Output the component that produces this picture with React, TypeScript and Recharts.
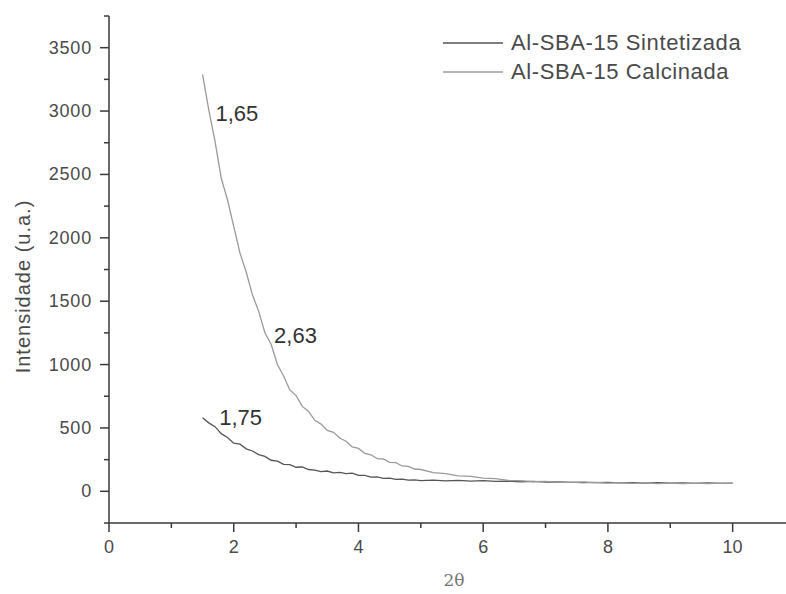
import { LineChart, Line, XAxis, YAxis, Legend, ReferenceDot } from 'recharts';

const twoTheta = [
  1.5, 1.6, 1.7, 1.8, 1.9, 2.0, 2.1, 2.2, 2.3, 2.4, 2.5, 2.6, 2.7, 2.8, 2.9, 3.0, 3.1, 3.2,
  3.3, 3.4, 3.5, 3.6, 3.7, 3.8, 3.9, 4.0, 4.1, 4.2, 4.3, 4.4, 4.5, 4.6, 4.7, 4.8, 4.9, 5.0,
  5.2, 5.4, 5.6, 5.8, 6.0, 6.2, 6.4, 6.6, 6.8, 7.0, 7.2, 7.4, 7.6, 7.8, 8.0, 8.2, 8.4, 8.6,
  8.8, 9.0, 9.2, 9.4, 9.6, 9.8, 10.0,
];

const sintetizada = [
  580, 540, 510, 455, 425, 380, 372, 335, 318, 290, 275, 245, 238, 212, 210, 190, 192, 172,
  168, 155, 160, 146, 150, 140, 143, 125, 126, 112, 114, 102, 104, 94, 96, 88, 91, 85,
  88, 82, 86, 80, 84, 78, 80, 75, 78, 72, 74, 70, 72, 68, 70, 66, 69, 65,
  68, 64, 67, 63, 66, 63, 65,
];

const calcinada = [
  3290, 3010, 2760, 2470, 2300, 2090, 1880, 1730, 1550, 1420, 1250, 1160, 1000, 910, 800, 755, 670, 630,
  560, 530, 480, 465, 420, 395, 350, 338, 300, 288, 258, 255, 228, 226, 200, 196, 176, 172,
  148, 140, 122, 118, 104, 100, 86, 84, 76, 78, 70, 72, 66, 70, 64, 68, 62, 66,
  61, 65, 60, 64, 61, 65, 62,
];

const seriesNames = ['Al-SBA-15 Sintetizada', 'Al-SBA-15 Calcinada'];

const xTicks = [0, 1, 2, 3, 4, 5, 6, 7, 8, 9, 10, 11];
const yTicks = [
  -250, 0, 250, 500, 750, 1000, 1250, 1500, 1750, 2000, 2250, 2500, 2750, 3000, 3250, 3500, 3750,
];

// peak annotations (text centre, data coords)
const peakLabels = ['1,65', '2,63', '1,75'];
const peakX = [2.05, 2.99, 2.11];
const peakY = [2982, 1231, 584];

const data = twoTheta.map((x, i) => ({ x, sint: sintetizada[i], calc: calcinada[i] }));

const FONT = '"Liberation Sans", Arial, sans-serif';
const AXIS = '#3a3a3a';
const TEXT = '#4a4a4a';

function XTick({ x, y, payload }: any) {
  const major = payload.value % 2 === 0 && payload.value <= 10;
  return (
    <g>
      <line x1={x} y1={y} x2={x} y2={y + (major ? 9 : 5)} stroke={AXIS} strokeWidth={1.5} />
      {major && (
        <text x={x} y={y + 30} textAnchor="middle" fontSize={18} fill={TEXT} fontFamily={FONT}>
          {payload.value}
        </text>
      )}
    </g>
  );
}

function YTick({ x, y, payload }: any) {
  const major = payload.value % 500 === 0 && payload.value >= 0 && payload.value <= 3500;
  return (
    <g>
      <line x1={x} y1={y} x2={x - (major ? 9 : 5)} y2={y} stroke={AXIS} strokeWidth={1.5} />
      {major && (
        <text x={x - 17} y={y + 6} textAnchor="end" fontSize={18} fill={TEXT} fontFamily={FONT} letterSpacing={0.8}>
          {payload.value}
        </text>
      )}
    </g>
  );
}

function LegendBox({ payload }: any) {
  const items = [...(payload || [])].sort(
    (a: any, b: any) => seriesNames.indexOf(a.value) - seriesNames.indexOf(b.value)
  );
  return (
    <div style={{ fontFamily: FONT }}>
      {items.map((p: any) => (
        <div key={p.value} style={{ display: 'flex', alignItems: 'center', height: 29 }}>
          <svg width={68} height={4}>
            <line x1={0} y1={2} x2={60} y2={2} stroke={p.color} strokeWidth={1.3} />
          </svg>
          <span style={{ fontSize: 22, color: TEXT, letterSpacing: 0.6 }}>{p.value}</span>
        </div>
      ))}
    </div>
  );
}

export default function App() {
  return (
    <div style={{ position: 'absolute', left: 0, top: 0, width: 786, height: 594, overflow: 'hidden', background: '#fff' }}>
      <LineChart width={800} height={594} data={data} margin={{ top: 16, right: 5, bottom: 0, left: 0 }}>
        <XAxis
          dataKey="x"
          type="number"
          domain={[0, 11]}
          ticks={xTicks}
          interval={0}
          height={71}
          tickSize={0}
          tickMargin={0}
          tick={<XTick />}
          axisLine={{ stroke: AXIS, strokeWidth: 1.5 }}
          label={{
            content: ({ viewBox }: any) => (
              <text
                x={viewBox.x + viewBox.width / 2 + 2}
                y={586}
                textAnchor="middle"
                fontSize={17}
                fill="#777"
                fontFamily='"DejaVu Serif", serif'
              >
                2θ
              </text>
            ),
          }}
        />
        <XAxis xAxisId="top" orientation="top" type="number" domain={[0, 11]} height={0} tick={false} tickLine={false} axisLine={{ stroke: AXIS, strokeWidth: 1.3 }} />
        <YAxis
          type="number"
          domain={[-250, 3750]}
          ticks={yTicks}
          interval={0}
          width={109}
          tickSize={0}
          tickMargin={0}
          tick={<YTick />}
          axisLine={{ stroke: AXIS, strokeWidth: 1.5 }}
          label={{
            content: ({ viewBox }: any) => {
              const cx = 23;
              const cy = viewBox.y + viewBox.height / 2 + 17;
              return (
                <text
                  x={cx}
                  y={cy}
                  transform={`rotate(-90 ${cx} ${cy})`}
                  textAnchor="middle"
                  dominantBaseline="central"
                  fontSize={20}
                  fill={TEXT}
                  fontFamily={FONT}
                  letterSpacing={1}
                >
                  Intensidade (u.a.)
                </text>
              );
            },
          }}
        />
        <Legend
          layout="vertical"
          verticalAlign="middle"
          align="center"
          content={<LegendBox />}
          wrapperStyle={{ left: 443, top: 28, width: 340 }}
        />
        <Line
          type="linear"
          dataKey="sint"
          name={seriesNames[0]}
          stroke="#555"
          strokeWidth={1.3}
          dot={false}
          isAnimationActive={false}
        />
        <Line
          type="linear"
          dataKey="calc"
          name={seriesNames[1]}
          stroke="#9a9a9a"
          strokeWidth={1.3}
          dot={false}
          isAnimationActive={false}
        />
        {peakLabels.map((t, i) => (
          <ReferenceDot
            key={t}
            x={peakX[i]}
            y={peakY[i]}
            r={0}
            stroke="none"
            fill="none"
            label={{ value: t, position: 'center', fontSize: 22, fill: '#333', fontFamily: FONT }}
          />
        ))}
      </LineChart>
    </div>
  );
}
